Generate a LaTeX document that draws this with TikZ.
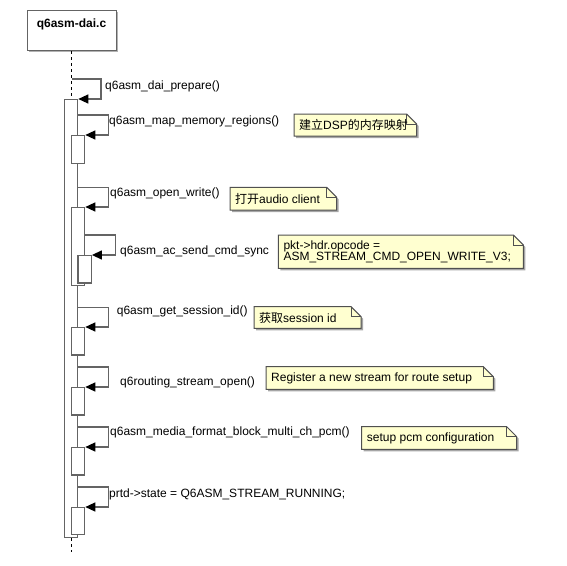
\documentclass[tikz,border=0pt]{standalone}
\usepackage{fontspec}
\setmainfont{Liberation Sans}
\newfontfamily\cjk{Noto Sans CJK SC}
\usetikzlibrary{arrows.meta,calc}
\definecolor{linec}{RGB}{100,100,100}
\definecolor{notefill}{RGB}{255,255,208}
\definecolor{noteline}{RGB}{80,80,80}
\tikzset{
  bar/.style={draw=linec,fill=white,line width=1.3pt,inner sep=0pt,anchor=north west,minimum width=13.3pt},
  msg/.style={draw=linec,line width=1.3pt,-{Triangle[length=10pt,width=9pt,color=black]}},
  life/.style={draw=black,line width=0.9pt,dash pattern=on 3pt off 3pt},
  lbl/.style={anchor=west,inner sep=0pt,font=\fontsize{12}{14}\selectfont},
  notetext/.style={anchor=west,inner sep=0pt,align=left,font=\fontsize{12}{11.5}\selectfont},
  notefr/.style={draw=noteline,line width=1pt,fill=notefill},
  notesh/.style={fill=black!35},
}
\newcommand\notebox[6]{%
  \fill[notesh] (#2+2,#3+2) -- (#2+#4-10+2,#3+2) -- (#2+#4+2,#3+10+2) -- (#2+#4+2,#3+#5+2) -- (#2+2,#3+#5+2) -- cycle;
  \draw[notefr] (#2,#3) -- (#2+#4-10,#3) -- (#2+#4,#3+10) -- (#2+#4,#3+#5) -- (#2,#3+#5) -- cycle;
  \draw[noteline,line width=1pt] (#2+#4-10,#3) -- (#2+#4-10,#3+10) -- (#2+#4,#3+10);
  \node[notetext] (#1) at (#2+5,#3+#5/2) {#6};
}
\begin{document}
\begin{tikzpicture}[x=1pt,y=-1pt]
\useasboundingbox (0,0) rectangle (567,565);
% header
\fill[black!30] (29,12) rectangle (118,52);
\node[draw=linec,fill=white,line width=1.3pt,minimum width=89pt,minimum height=40pt,anchor=north west,inner sep=0pt] (hdr) at (27,10) {};
\node[font=\bfseries\fontsize{12}{14}\selectfont,inner sep=0pt] (hdrt) at (71.5,24) {q6asm-dai.c};
% bars
\node[bar,minimum height=438pt] (bar1) at (63.7,99) {};
\node[bar,minimum height=28pt] (bar2) at (70.7,135) {};
\node[bar,minimum height=78pt] (bar3) at (70.7,207) {};
\node[bar,minimum height=27.3pt] (bar4) at (77.3,255) {};
\node[bar,minimum height=27.3pt] (bar5) at (70.7,327) {};
\node[bar,minimum height=27.3pt] (bar6) at (70.7,387) {};
\node[bar,minimum height=27.3pt] (bar7) at (70.7,447) {};
\node[bar,minimum height=27pt] (bar8) at (70.7,507) {};
% lifeline
\coordinate (lifeend) at (71.5,552);
\draw[life] (hdr.south -| lifeend) -- (bar1.north -| lifeend);
\draw[life] (bar1.south -| lifeend) -- (lifeend);
% self messages
\coordinate (s1) at (71.5,79);
\coordinate (s2) at (bar1.east |- 0,115);
\coordinate (s3) at (bar1.east |- 0,187.5);
\coordinate (s4) at (bar3.east |- 0,235);
\coordinate (s5) at (bar1.east |- 0,307.5);
\coordinate (s6) at (bar1.east |- 0,367);
\coordinate (s7) at (bar1.east |- 0,427);
\coordinate (s8) at (bar1.east |- 0,487);
\draw[msg] (s1) -- (101,79) |- (bar1.north east);
\draw[msg] (s2) -- ++(30,0) |- (bar2.north east);
\draw[msg] (s3) -- ++(30,0) |- (bar3.north east);
\draw[msg] (s4) -- ++(30,0) |- (bar4.north east);
\draw[msg] (s5) -- ++(30,0) |- (bar5.north east);
\draw[msg] (s6) -- ++(30,0) |- (bar6.north east);
\draw[msg] (s7) -- ++(30,0) |- (bar7.north east);
\draw[msg] (s8) -- ++(30,0) |- (bar8.north east);
% labels
\node[lbl] (l1) at (105,86) {q6asm\_dai\_prepare()};
\node[lbl] (l2) at (109,121) {q6asm\_map\_memory\_regions()};
\node[lbl] (l3) at (110,193) {q6asm\_open\_write()};
\node[lbl] (l4) at (120,251) {q6asm\_ac\_send\_cmd\_sync};
\node[lbl] (l5) at (116.7,311) {q6asm\_get\_session\_id()};
\node[lbl] (l6) at (120,382) {q6routing\_stream\_open()};
\node[lbl] (l7) at (110,432) {q6asm\_media\_format\_block\_multi\_ch\_pcm()};
\node[lbl] (l8) at (109,494) {prtd->state = Q6ASM\_STREAM\_RUNNING;};
% notes
\notebox{n1}{294}{114}{122.7}{22}{{\cjk 建立}DSP{\cjk 的内存映射}}
\notebox{n2}{230}{187.3}{106.7}{22.7}{{\cjk 打开}audio client}
\notebox{n3}{278.3}{235}{245}{33.3}{pkt->hdr.opcode =\\ASM\_STREAM\_CMD\_OPEN\_WRITE\_V3;}
\notebox{n4}{254}{306.7}{107}{21.6}{{\cjk 获取}session id}
\notebox{n5}{266}{366.7}{227.3}{22.6}{Register a new stream for route setup}
\notebox{n6}{361.7}{426.7}{155}{22.6}{setup pcm configuration}
\end{tikzpicture}
\end{document}
